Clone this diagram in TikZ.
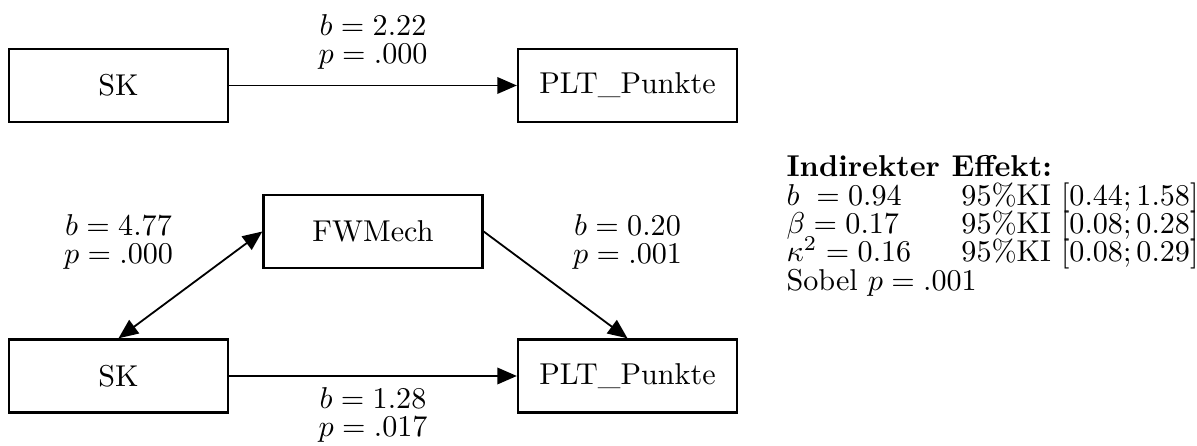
\documentclass[tikz,border=0pt]{standalone}
\usetikzlibrary{arrows.meta}
\newcommand\tightfont{\fontsize{10}{9.4}\selectfont\setlength{\lineskiplimit}{-10pt}}
\begin{document}
\begin{tikzpicture}[x=0.3317pt, y=-0.3317pt,
  box/.style={draw, line width=0.8pt, minimum width=72.6pt, minimum height=24.2pt, inner sep=0pt, font=\fontsize{10}{12}\selectfont},
  conn/.style={line width=0.6pt, -{Triangle[length=6.5pt,width=5.5pt]}},
  dconn/.style={line width=0.6pt, {Triangle[length=6.5pt,width=5.5pt]}-{Triangle[length=6.5pt,width=5.5pt]}},
  lab/.style={align=center, inner sep=0pt, anchor=north, font=\tightfont},
  info/.style={align=left, inner sep=0pt, anchor=north west, font=\tightfont}]
\useasboundingbox (0,0) rectangle (1197,446);
\node[box] (sk1) at (118.5,85.5) {SK};
\node[box] (plt1) at (627.5,85.5) {PLT\_Punkte};
\node[box] (fw) at (373,231.5) {FWMech};
\node[box] (sk2) at (118.5,376) {SK};
\node[box] (plt2) at (627.5,376) {PLT\_Punkte};
\draw[conn] (sk1) -- (plt1);
\draw[dconn] (sk2.north) -- (fw.west);
\draw[conn] (fw.east) -- (plt2.north);
\draw[conn] (sk2) -- (plt2);
\node[lab] (l1) at (373,14) {$b = 2.22$\\$p = .000$};
\node[lab] (l2) at (118.5,214) {$b = 4.77$\\$p = .000$};
\node[lab] (l3) at (627.5,214) {$b = 0.20$\\$p = .001$};
\node[lab] (l4) at (373,387) {$b = 1.28$\\$p = .017$};
\node[info] (ind) at (786,155) {\textbf{Indirekter Effekt:}\\
\makebox[58pt][l]{$b\;= 0.94$}95\%KI $[0.44; 1.58]$\\
\makebox[58pt][l]{$\beta = 0.17$}95\%KI $[0.08; 0.28]$\\
\makebox[58pt][l]{$\kappa^2 = 0.16$}95\%KI $[0.08; 0.29]$\\
Sobel $p = .001$};
\end{tikzpicture}
\end{document}
